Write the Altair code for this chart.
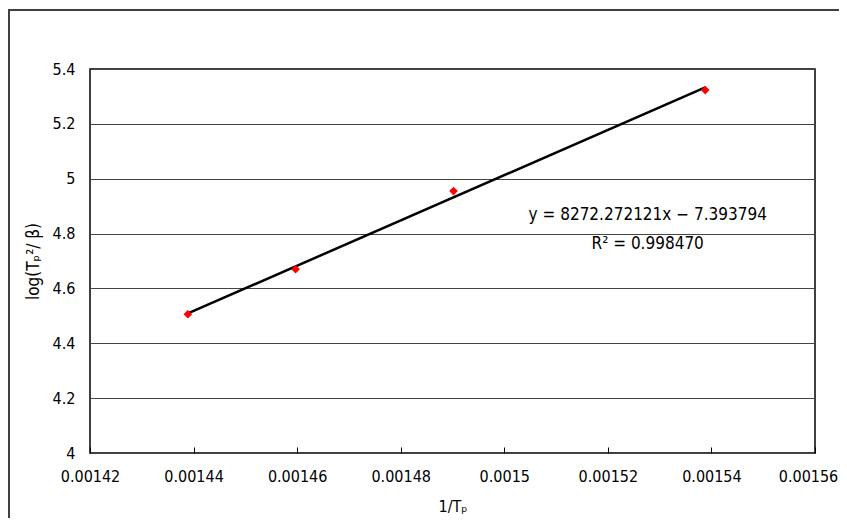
import altair as alt
import pandas as pd

# Data
inv_tp = [0.0014389, 0.0014597, 0.0014902, 0.0015388]
log_val = [4.506, 4.670, 4.955, 5.323]

x_ticks = [0.00142, 0.00144, 0.00146, 0.00148, 0.00150, 0.00152, 0.00154, 0.00156]
y_ticks = [4.0, 4.2, 4.4, 4.6, 4.8, 5.0, 5.2, 5.4]

ann_text = ["y = 8272.272121x \u2212 7.393794", "R\u00b2 = 0.998470"]
ann_x = [0.0015277, 0.0015277]
ann_y = [4.866, 4.762]

FONT = "DejaVu Sans Condensed"

pts = pd.DataFrame({"x": inv_tp, "y": log_val})
ann = pd.DataFrame({"t": ann_text, "x": ann_x, "y": ann_y})

xscale = alt.Scale(domain=[0.00142, 0.00156], nice=False, zero=False)
yscale = alt.Scale(domain=[4.0, 5.4], nice=False, zero=False)

xaxis = alt.Axis(
    title="1/T\u209a", values=x_ticks, format="~g", grid=False, domain=False,
    ticks=True, tickSize=6, offset=-6, tickColor="#000000", tickWidth=1,
    labelFlush=False, labelPadding=15, labelFont=FONT, labelFontSize=16,
    labelColor="#000000",
    labelOffset={"condition": {"test": "datum.value > 0.001555", "value": -7}, "value": 0},
    titleFont=FONT, titleFontSize=16, titleFontWeight="normal", titleColor="#000000",
    titlePadding=14,
)
yaxis = alt.Axis(
    title="log(T\u209a\u00b2/ \u03b2)", values=y_ticks, format="~g", grid=True,
    gridColor="#444444", gridWidth=1, domain=False, ticks=False,
    labelFlush=False, labelPadding=15, labelFont=FONT, labelFontSize=16,
    labelColor="#000000",
    titleFont=FONT, titleFontSize=17, titleFontWeight="normal", titleColor="#000000",
    titlePadding=10,
)

base = alt.Chart(pts)

fit = base.transform_regression("x", "y", method="linear").mark_line(
    color="#000000", strokeWidth=2.5
).encode(
    x=alt.X("x:Q", scale=xscale, axis=xaxis),
    y=alt.Y("y:Q", scale=yscale, axis=yaxis),
)

points = base.mark_point(
    shape="diamond", filled=True, color="#ff0000", size=75, opacity=1
).encode(
    x=alt.X("x:Q", scale=xscale),
    y=alt.Y("y:Q", scale=yscale),
)

labels = alt.Chart(ann).mark_text(
    font=FONT, fontSize=17, color="#000000", align="center", baseline="middle"
).encode(
    x=alt.X("x:Q", scale=xscale),
    y=alt.Y("y:Q", scale=yscale),
    text="t:N",
)

one = alt.Data(values=[{"k": 1}])
frame_left = alt.Chart(one).mark_rule(color="#404040", strokeWidth=2).encode(
    x=alt.value(-81), y=alt.value(-59), y2=alt.value(700)
)
frame_top = alt.Chart(one).mark_rule(color="#404040", strokeWidth=2).encode(
    x=alt.value(-82), x2=alt.value(900), y=alt.value(-59)
)

chart = alt.layer(frame_left, frame_top, fit, points, labels).properties(
    width=725, height=384,
    autosize=alt.AutoSizeParams(type="none"),
    padding={"left": 82, "top": 61, "right": 24, "bottom": 65},
    background="#ffffff",
).configure_view(
    stroke="#000000", strokeWidth=1.5
)

chart.save("out.html", embed_options={"renderer": "svg", "actions": False})
